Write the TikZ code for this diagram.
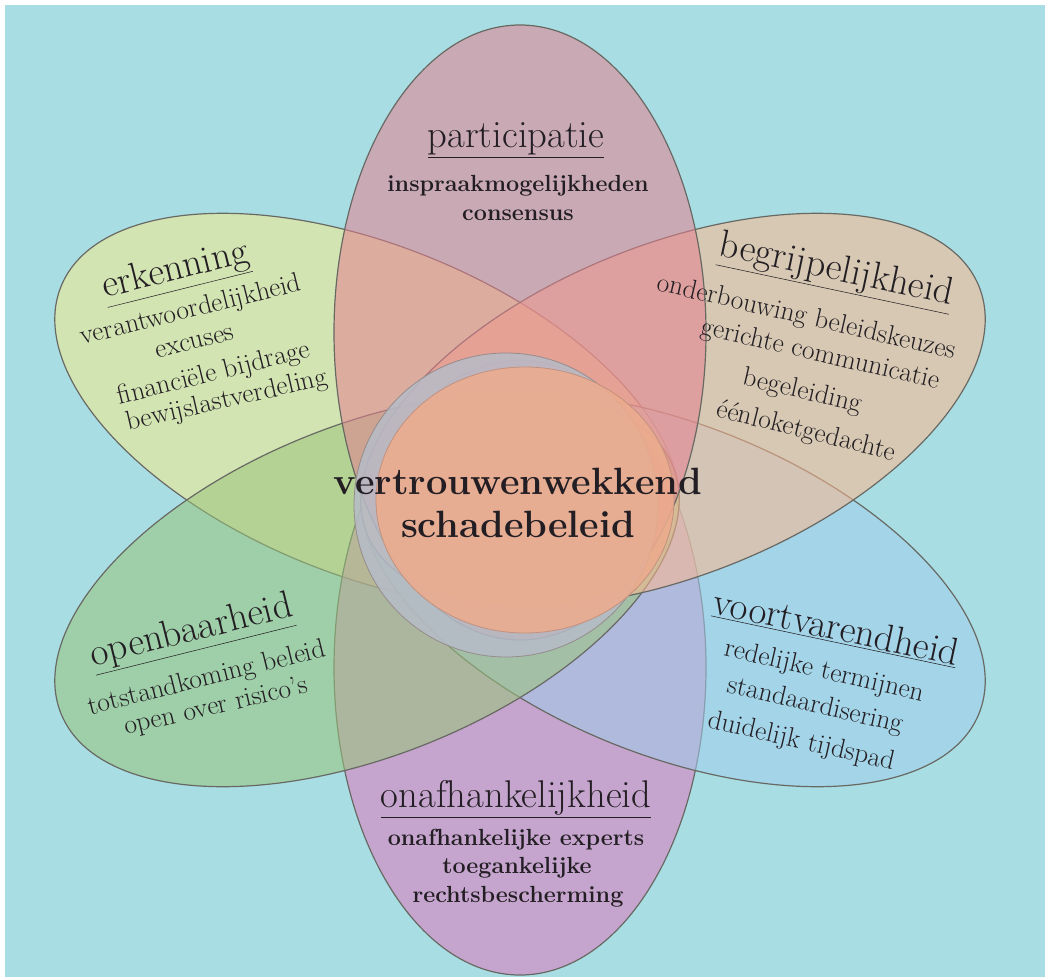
\documentclass[tikz,border=0pt]{standalone}
\usepackage{fontspec}
\definecolor{bgc}{RGB}{168,221,227}
\definecolor{cE}{RGB}{248,234,141}
\definecolor{cB}{RGB}{252,183,141}
\definecolor{cP}{RGB}{228,128,143}
\definecolor{cO}{RGB}{153,197,123}
\definecolor{cV}{RGB}{160,205,235}
\definecolor{cN}{RGB}{221,119,187}
\definecolor{cGrey}{RGB}{182,188,200}
\definecolor{cOrange}{RGB}{236,172,142}
\definecolor{edgec}{RGB}{105,105,100}
\definecolor{txt}{RGB}{35,30,35}
\tikzset{
  petal/.style={draw=edgec, line width=0.9pt, fill opacity=0.55, draw opacity=1},
  ttl/.style={text=txt, inner sep=0pt, font=\fontsize{29}{33}\selectfont},
  sub/.style={text=txt, inner sep=0pt, font=\fontsize{20.5}{24}\selectfont},
  subb/.style={text=txt, inner sep=0pt, font=\fontsize{17.5}{21}\selectfont\bfseries},
  ctr/.style={text=txt, inner sep=0pt, font=\fontsize{28.5}{34}\selectfont\bfseries}
}
\begin{document}
\begin{tikzpicture}[x=0.75pt,y=-0.75pt]
\useasboundingbox (0,0) rectangle (1045,977);
\fill[white] (0,0) rectangle (1045,977);
\fill[bgc] (5,5) rectangle (1045,977);
% petals (bottom to top)
\path[petal, fill=cE, rotate around={-22:(367,410)}] (367,410) ellipse [x radius=330, y radius=165];
\path[petal, fill=cN] (520,667.5) ellipse [x radius=186, y radius=307.5];
\path[petal, fill=cV, rotate around={-22:(673,590)}] (673,590) ellipse [x radius=330, y radius=165];
\path[petal, fill=cO, rotate around={22:(367,590)}] (367,590) ellipse [x radius=330, y radius=165];
\path[petal, fill=cB, rotate around={22:(673,410)}] (673,410) ellipse [x radius=330, y radius=165];
\path[petal, fill=cP] (520,332.5) ellipse [x radius=186, y radius=307.5];
% centre
\path[draw={rgb,255:red,150;green,140;blue,140}, line width=0.6pt, fill=cGrey, fill opacity=0.85] (506,505) circle [radius=152];
\path[draw={rgb,255:red,195;green,145;blue,125}, line width=0.6pt, fill=cOrange, fill opacity=0.88] (525,500) ellipse [x radius=149, y radius=133];
% participatie
\node[ttl] (tP) at (516,140) {\underline{participatie}};
\node[subb] (P1) at (518,186) {inspraakmogelijkheden};
\node[subb] (P2) at (518,215) {consensus};
% erkenning
\node[ttl, rotate=14] (tE) at (176,272) {\underline{erkenning}};
\node[sub, rotate=14] (E1) at (191,311) {verantwoordelijkheid};
\node[sub, rotate=14] (E2) at (195,343) {excuses};
\node[sub, rotate=14] (E3) at (214,374) {financiële bijdrage};
\node[sub, rotate=13] (E4) at (227,401) {bewijslastverdeling};
% begrijpelijkheid
\node[ttl, rotate=-12] (tB) at (836,272) {\underline{begrijpelijkheid}};
\node[sub, rotate=-13] (B1) at (806,318) {onderbouwing beleidskeuzes};
\node[sub, rotate=-13] (B2) at (820,355) {gerichte communicatie};
\node[sub, rotate=-13] (B3) at (802,392) {begeleiding};
\node[sub, rotate=-14] (B4) at (806,432) {éénloketgedachte};
% centre text
\node[ctr] (C1) at (518,481) {vertrouwenwekkend};
\node[ctr] (C2) at (518,524) {schadebeleid};
% openbaarheid
\node[ttl, rotate=14] (tO) at (192,633) {\underline{openbaarheid}};
\node[sub, rotate=14] (O1) at (207,679) {totstandkoming beleid};
\node[sub, rotate=13] (O2) at (216,707) {open over risico's};
% voortvarendheid
\node[ttl, rotate=-12] (tV) at (836,628) {\underline{voortvarendheid}};
\node[sub, rotate=-13] (V1) at (824,672) {redelijke termijnen};
\node[sub, rotate=-13] (V2) at (815,706) {standaardisering};
\node[sub, rotate=-13] (V3) at (801,742) {duidelijk tijdspad};
% onafhankelijkheid
\node[ttl] (tN) at (516,799) {\underline{onafhankelijkheid}};
\node[subb] (N1) at (516,840) {onafhankelijke experts};
\node[subb] (N2) at (517,868) {toegankelijke};
\node[subb] (N3) at (518,897) {rechtsbescherming};
\end{tikzpicture}
\end{document}
